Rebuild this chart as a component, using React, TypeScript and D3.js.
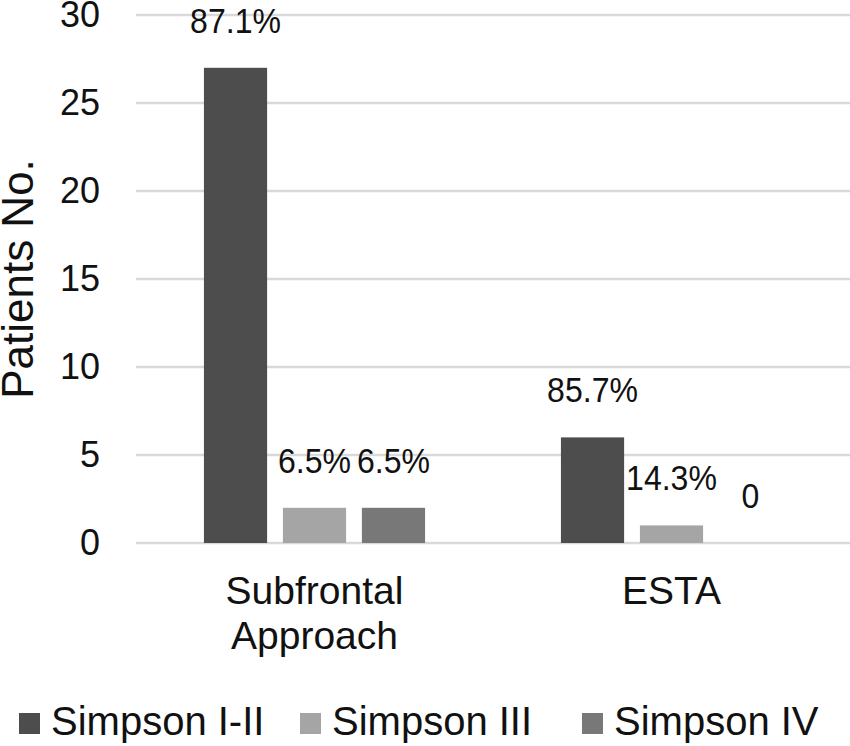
import { useEffect, useRef } from "react";
import * as d3 from "d3";

const categories = ["Subfrontal Approach", "ESTA"];
const categoryLines = [["Subfrontal", "Approach"], ["ESTA"]];
const seriesNames = ["Simpson I-II", "Simpson III", "Simpson IV"];
const seriesColors = ["#4d4d4d", "#a5a5a5", "#787878"];
// patient counts per category, one array per series
const simpsonI_II = [27, 6];
const simpsonIII = [2, 1];
const simpsonIV = [2, 0];
const pctLabels = [
    ["87.1%", "6.5%", "6.5%"],
    ["85.7%", "14.3%", "0"],
];
const yTicks = [0, 5, 10, 15, 20, 25, 30];

const W = 850;
const H = 746;

export default function App() {
    const svgRef = useRef<SVGSVGElement>(null);

    useEffect(() => {
        document.body.style.margin = "0";
        if (!svgRef.current) return;
        const svg = d3.select(svgRef.current);
        svg.selectAll("*").remove();

        const font = "'Liberation Sans', Arial, sans-serif";
        const left = 136;
        const right = 850;
        const top = 15;
        const bottom = 543;

        const series = [simpsonI_II, simpsonIII, simpsonIV];

        const x0 = d3.scaleBand().domain(categories).range([left, right]).paddingInner(0).paddingOuter(0);
        const x1 = d3
            .scaleBand()
            .domain(seriesNames)
            .range([0, x0.bandwidth()])
            .paddingInner(0.2)
            .paddingOuter(0.86);
        const y = d3.scaleLinear().domain([0, 30]).range([bottom, top]);

        // gridlines
        svg.append("g")
            .selectAll("line")
            .data(yTicks)
            .enter()
            .append("line")
            .attr("x1", left)
            .attr("x2", right)
            .attr("y1", (d) => y(d))
            .attr("y2", (d) => y(d))
            .attr("stroke", "#d9d9d9")
            .attr("stroke-width", 2.5);

        // y tick labels
        svg.append("g")
            .selectAll("text")
            .data(yTicks)
            .enter()
            .append("text")
            .attr("x", 100)
            .attr("y", (d) => y(d) + 12)
            .attr("text-anchor", "end")
            .attr("font-family", font)
            .attr("font-size", 36)
            .attr("fill", "#111")
            .text((d) => d);

        // y title
        svg.append("text")
            .attr("transform", `translate(33,279) rotate(-90)`)
            .attr("text-anchor", "middle")
            .attr("font-family", font)
            .attr("font-size", 44)
            .attr("fill", "#111")
            .text("Patients No.");

        // bars + labels
        categories.forEach((cat, ci) => {
            const g = svg.append("g").attr("transform", `translate(${x0(cat)},0)`);
            seriesNames.forEach((s, si) => {
                const v = series[si][ci];
                const bx = x1(s) ?? 0;
                if (v > 0) {
                    g.append("rect")
                        .attr("x", bx)
                        .attr("y", y(v))
                        .attr("width", x1.bandwidth())
                        .attr("height", bottom - y(v))
                        .attr("fill", seriesColors[si]);
                }
                g.append("text")
                    .attr(
                        "transform",
                        `translate(${bx + x1.bandwidth() / 2},${y(v) - 35}) scale(0.89,1)`
                    )
                    .attr("text-anchor", "middle")
                    .attr("font-family", font)
                    .attr("font-size", 36)
                    .attr("fill", "#111")
                    .text(pctLabels[ci][si]);
            });
            // category label
            const cx = (x0(cat) ?? 0) + x0.bandwidth() / 2;
            categoryLines[ci].forEach((line, li) => {
                svg.append("text")
                    .attr("x", cx)
                    .attr("y", 604 + li * 45)
                    .attr("text-anchor", "middle")
                    .attr("font-family", font)
                    .attr("font-size", 39)
                    .attr("fill", "#111")
                    .text(line);
            });
        });

        // legend
        const legendX = [19, 300, 582];
        seriesNames.forEach((s, si) => {
            svg.append("rect")
                .attr("x", legendX[si])
                .attr("y", 713)
                .attr("width", 21)
                .attr("height", 21)
                .attr("fill", seriesColors[si]);
            svg.append("text")
                .attr("x", legendX[si] + 32)
                .attr("y", 735)
                .attr("font-family", font)
                .attr("font-size", 40)
                .attr("fill", "#111")
                .text(s);
        });
    }, []);

    return <svg ref={svgRef} width={W} height={H} style={{ display: "block", background: "#fff" }} />;
}
